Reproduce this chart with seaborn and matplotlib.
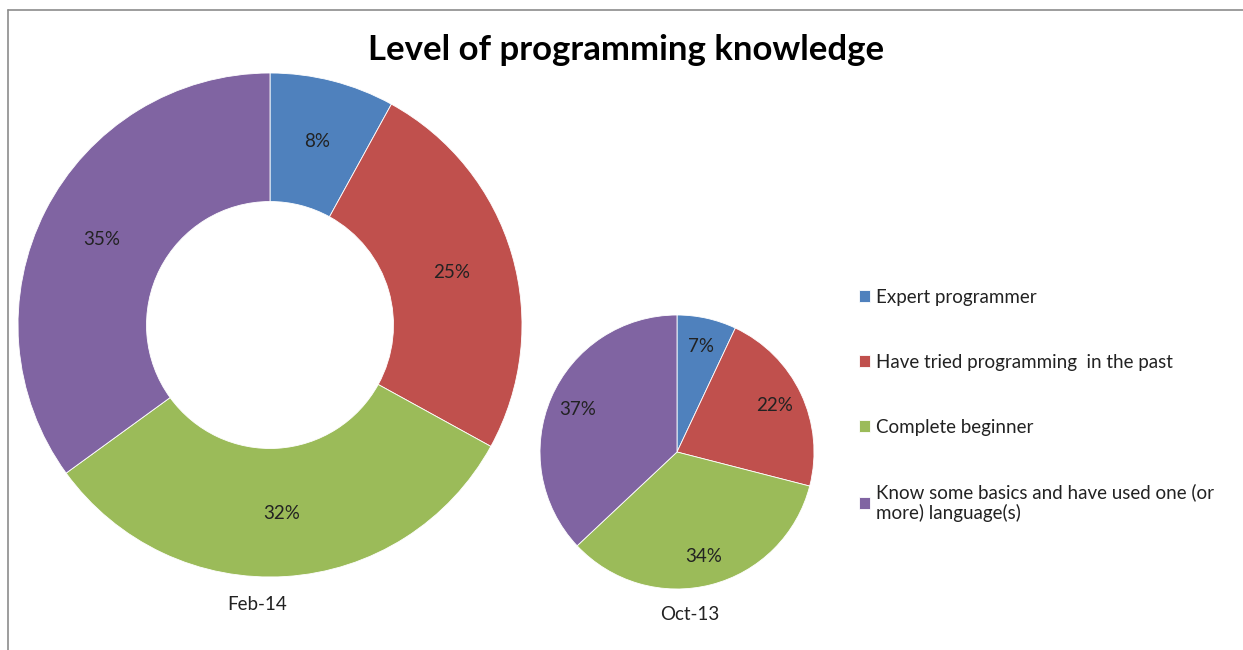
import matplotlib
matplotlib.use("Agg")
import matplotlib.pyplot as plt
from matplotlib.lines import Line2D
import seaborn as sns

categories = ["Expert programmer", "Have tried programming  in the past",
              "Complete beginner", "Know some basics and have used one (or\nmore) language(s)"]
feb14 = [8, 25, 32, 35]
oct13 = [7, 22, 34, 37]
series_names = ["Feb-14", "Oct-13"]
title = "Level of programming knowledge"

sns.set_theme(style="white")
plt.rcParams['font.family'] = ['Lato', 'DejaVu Sans']
colors = sns.color_palette(["#4F81BD", "#C0504D", "#9BBB59", "#8064A2"])

W, H = 1243, 650
fig = plt.figure(figsize=(W / 100, H / 100), dpi=100)
fig.patch.set_facecolor("white")

def ax_at(cx, cy, r):
    return fig.add_axes([(cx - r) / W, 1 - (cy + r) / H, 2 * r / W, 2 * r / H])

FS = 13.5
# Donut (Feb-14)
ax1 = ax_at(270, 325, 252)
wedges, texts, autotexts = ax1.pie(
    feb14, colors=colors, startangle=90, counterclock=False,
    radius=1, autopct="%d%%", pctdistance=0.75,
    wedgeprops=dict(width=0.51, edgecolor="white", linewidth=0.6),
    textprops=dict(fontsize=FS, color="#222222"))
ax1.set_xlim(-1, 1); ax1.set_ylim(-1, 1); ax1.set_aspect("equal"); ax1.axis("off")

# Pie (Oct-13)
ax2 = ax_at(677, 452, 137)
ax2.pie(oct13, colors=colors, startangle=90, counterclock=False,
        radius=1, autopct="%d%%", pctdistance=0.79,
        wedgeprops=dict(edgecolor="white", linewidth=0.6),
        textprops=dict(fontsize=FS, color="#222222"))
ax2.set_xlim(-1, 1); ax2.set_ylim(-1, 1); ax2.set_aspect("equal"); ax2.axis("off")

fig.text(257 / W, 1 - 605 / H, series_names[0], ha="center", va="center", fontsize=FS, color="#222222")
fig.text(690 / W, 1 - 615 / H, series_names[1], ha="center", va="center", fontsize=FS, color="#222222")
fig.text(626 / W, 1 - 50 / H, title, ha="center", va="center", fontsize=25, fontweight="bold", color="black")

leg = fig.legend(wedges, categories, loc="upper left",
                 bbox_to_anchor=(859 / W, 1 - 289 / H), frameon=False,
                 fontsize=FS, labelspacing=2.55, handlelength=0.6, handleheight=0.6,
                 handletextpad=0.3, borderpad=0, borderaxespad=0)
for t in leg.get_texts():
    t.set_color("#222222")

# chart border lines (top and left)
fig.add_artist(Line2D([8 / W, 1], [1 - 10 / H, 1 - 10 / H], transform=fig.transFigure, color="#8c8c8c", lw=1.2))
fig.add_artist(Line2D([8 / W, 8 / W], [0, 1 - 10 / H], transform=fig.transFigure, color="#8c8c8c", lw=1.2))

fig.savefig("out.png", dpi=100, facecolor="white")
